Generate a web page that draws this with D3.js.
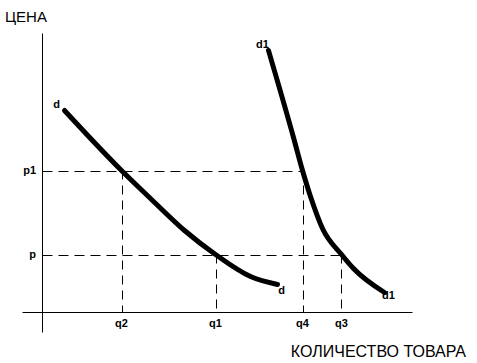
<!DOCTYPE html>
<html>
<head>
<meta charset="utf-8">
<script src="https://cdn.jsdelivr.net/npm/d3@7"></script>
<style>
  body { margin: 0; background: #fff; }
  text { font-family: "Liberation Sans", Arial, sans-serif; }
</style>
</head>
<body>
<div id="chart"></div>
<script>
// demand curve d (quantity, price)
var dCurve = [[2.2, 20.2], [7.9, 14.2], [10.8, 11.4], [14.2, 8.2], [17.3, 5.8], [20.8, 3.6], [23.5, 2.8]];
// demand curve d1
var d1Curve = [[22.6, 26.2], [25.1, 17.5], [26.0, 14.2], [26.8, 11.6], [28.0, 8.4], [29.9, 5.8], [31.1, 4.4], [34.2, 2.0]];

var priceLevels = [{name: "p1", value: 14.2, upTo: 26.0}, {name: "p", value: 5.8, upTo: 29.9}];
var qtyLevels = [
  {name: "q2", value: 7.9, from: 14.2},
  {name: "q1", value: 17.3, from: 5.8},
  {name: "q4", value: 26.0, from: 14.2},
  {name: "q3", value: 29.9, from: 5.8}
];
var curveLabels = [
  {text: "d", at: [1.4, 20.5]},
  {text: "d", at: [23.9, 1.9]},
  {text: "d1", at: [22.0, 26.5]},
  {text: "d1", at: [34.6, 1.4]}
];

var width = 477, height = 363;

var svg = d3.select("#chart")
  .append("svg")
    .attr("width", width)
    .attr("height", height);

var x = d3.scaleLinear().domain([0, 40]).range([42.5, 442.5]);
var y = d3.scaleLinear().domain([0, 28]).range([312.5, 32.5]);

// axes
svg.append("line")
  .attr("x1", x(-2)).attr("x2", x(37))
  .attr("y1", y(0)).attr("y2", y(0))
  .attr("stroke", "black").attr("stroke-width", 1);
svg.append("line")
  .attr("x1", x(0)).attr("x2", x(0))
  .attr("y1", y(-2)).attr("y2", y(27.9))
  .attr("stroke", "black").attr("stroke-width", 1);

// dashed guide lines
svg.selectAll(".hguide")
  .data(priceLevels)
  .enter().append("line")
    .attr("class", "hguide")
    .attr("x1", x(0)).attr("x2", function(d) { return x(d.upTo); })
    .attr("y1", function(d) { return Math.round(y(d.value)) + 0.5; })
    .attr("y2", function(d) { return Math.round(y(d.value)) + 0.5; })
    .attr("stroke", "black").attr("stroke-width", 1)
    .attr("stroke-dasharray", "10,6");

svg.selectAll(".vguide")
  .data(qtyLevels)
  .enter().append("line")
    .attr("class", "vguide")
    .attr("x1", function(d) { return Math.round(x(d.value)) + 0.5; })
    .attr("x2", function(d) { return Math.round(x(d.value)) + 0.5; })
    .attr("y1", function(d) { return y(d.from); }).attr("y2", y(0))
    .attr("stroke", "black").attr("stroke-width", 1)
    .attr("stroke-dasharray", "9,6");

// curves
var line = d3.line()
  .x(function(d) { return x(d[0]); })
  .y(function(d) { return y(d[1]); })
  .curve(d3.curveMonotoneX);

[dCurve, d1Curve].forEach(function(c) {
  svg.append("path")
    .datum(c)
    .attr("fill", "none")
    .attr("stroke", "black")
    .attr("stroke-width", 5)
    .attr("stroke-linecap", "round")
    .attr("d", line);
});

// small bold labels
svg.selectAll(".plabel")
  .data(priceLevels)
  .enter().append("text")
    .attr("x", 36)
    .attr("y", function(d) { return y(d.value) + 3; })
    .attr("text-anchor", "end")
    .style("font-size", "11px")
    .style("font-weight", "bold")
    .text(function(d) { return d.name; });

svg.selectAll(".qlabel")
  .data(qtyLevels)
  .enter().append("text")
    .attr("x", function(d) { return x(d.value); })
    .attr("y", 327)
    .attr("text-anchor", "middle")
    .style("font-size", "11px")
    .style("font-weight", "bold")
    .text(function(d) { return d.name; });

svg.selectAll(".clabel")
  .data(curveLabels)
  .enter().append("text")
    .attr("x", function(d) { return x(d.at[0]); })
    .attr("y", function(d) { return y(d.at[1]); })
    .attr("text-anchor", "middle")
    .style("font-size", "11px")
    .style("font-weight", "bold")
    .text(function(d) { return d.text; });

// axis titles
svg.append("text")
  .attr("x", 5)
  .attr("y", 22)
  .style("font-size", "15px")
  .text("ЦЕНА");

svg.append("text")
  .attr("x", 466)
  .attr("y", 357)
  .attr("text-anchor", "end")
  .style("font-size", "16px")
  .text("КОЛИЧЕСТВО ТОВАРА");
</script>
</body>
</html>
